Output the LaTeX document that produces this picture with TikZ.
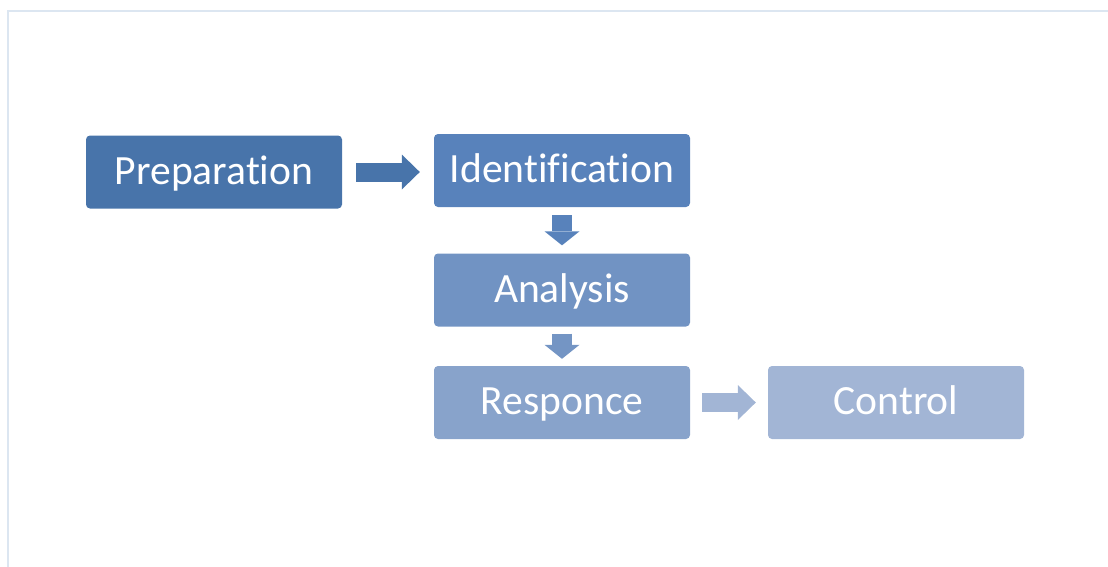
\documentclass[tikz,border=0pt]{standalone}
\usepackage{fontspec}
\setmainfont{Carlito}[Ligatures=NoCommon]
\usetikzlibrary{arrows.meta}

\definecolor{prepblue}{HTML}{4874AA}
\definecolor{identblue}{HTML}{5882BB}
\definecolor{anablue}{HTML}{7193C3}
\definecolor{respblue}{HTML}{88A3CB}
\definecolor{ctrlblue}{HTML}{A2B5D5}
\definecolor{framegray}{HTML}{DCE6F1}

\tikzset{
	stage/.style={fill=#1, rounded corners=4pt, minimum width=256pt, minimum height=73pt,
		text=white, font=\fontsize{41.6}{50}\selectfont, inner sep=0pt,
		text height=30pt, text depth=6pt},
	blockarr/.style={draw=#1, line width=19pt,
		-{Triangle[length=18pt, width=35pt, line width=0pt, fill=#1]}},
	droparr/.style={draw=#1, line width=20pt,
		-{Triangle[length=14pt, width=35pt, line width=0pt, fill=#1]}}
}

\begin{document}
\begin{tikzpicture}[x=1pt, y=-1pt]
			\useasboundingbox (0,0) rectangle (1108,566);
			\draw[framegray, line width=2pt] (8,11) rectangle (1130,590);

			\node[stage=prepblue]  (prep)  at (214,172)   {Preparation};
			\node[stage=identblue] (ident) at (562,170.5) {Identification};
			\node[stage=anablue]   (ana)   at (562,290)   {Analysis};
			\node[stage=respblue]  (resp)  at (562,402.5) {Responce};
			\node[stage=ctrlblue]  (ctrl)  at (896,402.5) {Control};

			\draw[blockarr=prepblue] ([xshift=14pt]prep.east) -- ([xshift=-14pt]prep.east -| ident.west);
			\draw[droparr=identblue] ([yshift=-8pt]ident.south) -- ([yshift=8pt]ana.north);
			\draw[droparr=anablue!85!respblue] ([yshift=-7pt]ana.south) -- ([yshift=7pt]resp.north);
			\draw[blockarr=ctrlblue] ([xshift=12pt]resp.east) -- ([xshift=-12pt]ctrl.west);
		\end{tikzpicture}
\end{document}
